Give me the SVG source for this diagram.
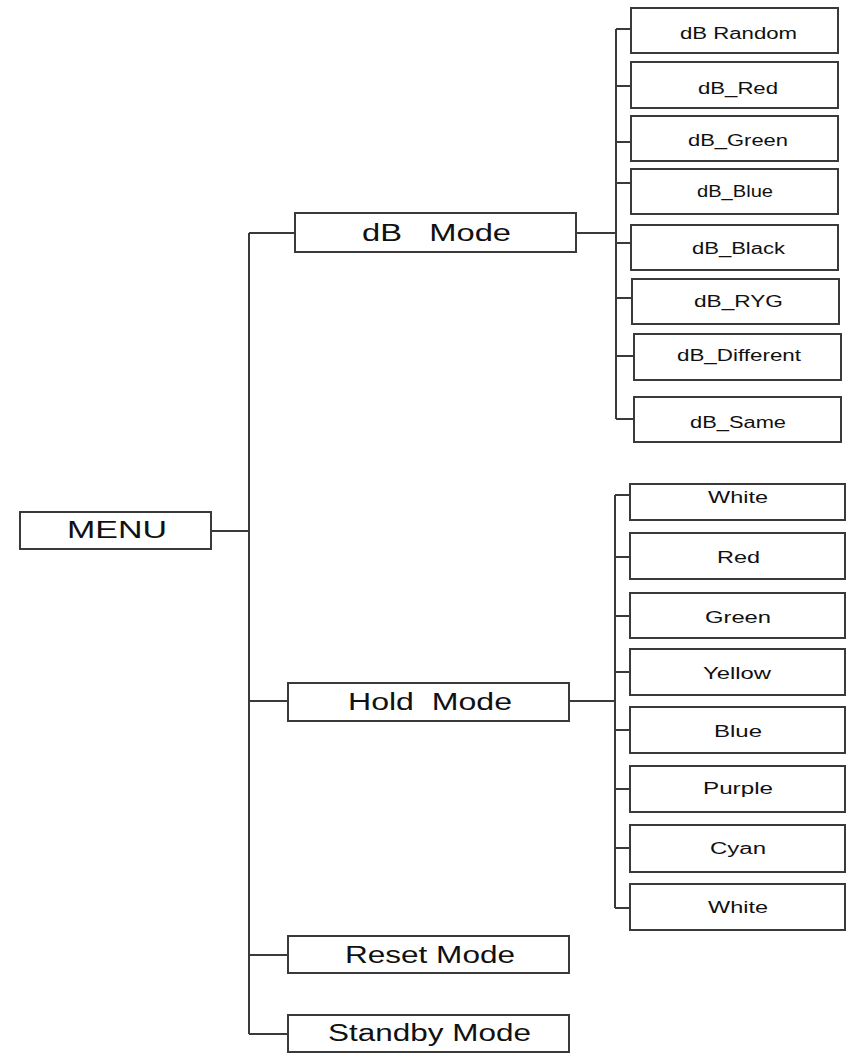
<svg xmlns="http://www.w3.org/2000/svg" width="852" height="1053" viewBox="0 0 852 1053">
<style>
.b{fill:#fff;stroke:#3a3a3a;stroke-width:2}
.c{fill:none;stroke:#3a3a3a;stroke-width:2}
.t{font-family:"Liberation Sans",Arial,sans-serif;fill:#111}
.m{font-size:23px}
.s{font-size:16px}
</style>
<rect width="852" height="1053" fill="#fff"/>
<g id="connectors" class="c">
<path d="M211 531H249M249 233V1034M249 233H295M249 701H288M249 955H288M249 1034H288"/>
<path d="M576 233H616M616 29V419M616 29H631M616 86H631M616 142H631M616 183H631M616 243H631M616 298H632M616 356H634M616 419H634"/>
<path d="M569 701H615M615 495V908M615 495H630M615 557H630M615 616H630M615 672H630M615 730H630M615 789H630M615 848H630M615 908H630"/>
</g>
<g id="menu"><rect class="b" x="20" y="512" width="191" height="37"/><text class="t m" x="67" y="538" textLength="100" lengthAdjust="spacingAndGlyphs">MENU</text></g>
<g id="db-mode"><rect class="b" x="295" y="213" width="281" height="39"/><text class="t m" x="362" y="241" textLength="149" lengthAdjust="spacingAndGlyphs" xml:space="preserve">dB   Mode</text></g>
<g id="hold-mode"><rect class="b" x="288" y="683" width="281" height="38"/><text class="t m" x="348" y="710" textLength="164" lengthAdjust="spacingAndGlyphs" xml:space="preserve">Hold  Mode</text></g>
<g id="reset-mode"><rect class="b" x="288" y="936" width="281" height="37"/><text class="t m" x="345" y="963" textLength="170" lengthAdjust="spacingAndGlyphs">Reset Mode</text></g>
<g id="standby-mode"><rect class="b" x="288" y="1015" width="281" height="37"/><text class="t m" x="328" y="1041" textLength="203" lengthAdjust="spacingAndGlyphs">Standby Mode</text></g>
<g id="db-random"><rect class="b" x="631" y="8" width="207" height="45"/><text class="t s" x="680" y="39" textLength="117" lengthAdjust="spacingAndGlyphs">dB Random</text></g>
<g id="db-red"><rect class="b" x="631" y="62" width="207" height="46"/><text class="t s" x="698" y="94" textLength="80" lengthAdjust="spacingAndGlyphs">dB_Red</text></g>
<g id="db-green"><rect class="b" x="631" y="116" width="207" height="45"/><text class="t s" x="688" y="146" textLength="100" lengthAdjust="spacingAndGlyphs">dB_Green</text></g>
<g id="db-blue"><rect class="b" x="631" y="169" width="207" height="45"/><text class="t s" x="697" y="197" textLength="76" lengthAdjust="spacingAndGlyphs">dB_Blue</text></g>
<g id="db-black"><rect class="b" x="631" y="225" width="207" height="45"/><text class="t s" x="692" y="254" textLength="93" lengthAdjust="spacingAndGlyphs">dB_Black</text></g>
<g id="db-ryg"><rect class="b" x="632" y="279" width="207" height="45"/><text class="t s" x="694" y="307" textLength="89" lengthAdjust="spacingAndGlyphs">dB_RYG</text></g>
<g id="db-different"><rect class="b" x="634" y="334" width="207" height="46"/><text class="t s" x="677" y="361" textLength="124" lengthAdjust="spacingAndGlyphs">dB_Different</text></g>
<g id="db-same"><rect class="b" x="634" y="397" width="207" height="45"/><text class="t s" x="690" y="428" textLength="96" lengthAdjust="spacingAndGlyphs">dB_Same</text></g>
<g id="white-1"><rect class="b" x="630" y="484" width="215" height="36"/><text class="t s" x="708" y="503" textLength="60" lengthAdjust="spacingAndGlyphs">White</text></g>
<g id="red"><rect class="b" x="630" y="533" width="215" height="46"/><text class="t s" x="717" y="563" textLength="43" lengthAdjust="spacingAndGlyphs">Red</text></g>
<g id="green"><rect class="b" x="630" y="593" width="215" height="45"/><text class="t s" x="705" y="623" textLength="66" lengthAdjust="spacingAndGlyphs">Green</text></g>
<g id="yellow"><rect class="b" x="630" y="649" width="215" height="46"/><text class="t s" x="703" y="679" textLength="68" lengthAdjust="spacingAndGlyphs">Yellow</text></g>
<g id="blue"><rect class="b" x="630" y="707" width="215" height="46"/><text class="t s" x="714" y="737" textLength="48" lengthAdjust="spacingAndGlyphs">Blue</text></g>
<g id="purple"><rect class="b" x="630" y="766" width="215" height="46"/><text class="t s" x="703" y="794" textLength="70" lengthAdjust="spacingAndGlyphs">Purple</text></g>
<g id="cyan"><rect class="b" x="630" y="825" width="215" height="47"/><text class="t s" x="710" y="854" textLength="56" lengthAdjust="spacingAndGlyphs">Cyan</text></g>
<g id="white-2"><rect class="b" x="630" y="884" width="215" height="46"/><text class="t s" x="708" y="913" textLength="60" lengthAdjust="spacingAndGlyphs">White</text></g>
</svg>
